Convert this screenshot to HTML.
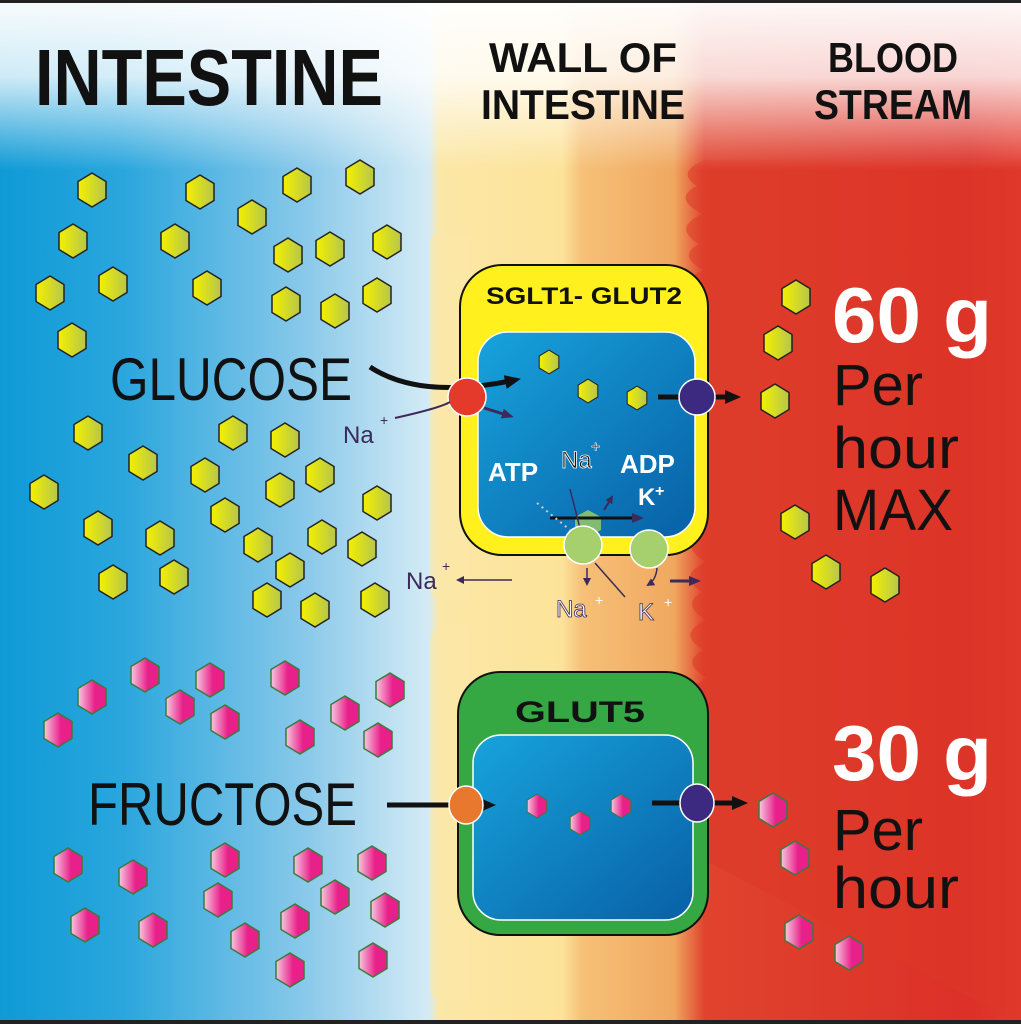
<!DOCTYPE html>
<html><head><meta charset="utf-8"><style>
html,body{margin:0;padding:0;background:#fff}
svg{display:block}
text{font-family:"Liberation Sans",sans-serif}
</style></head><body>
<svg width="1021" height="1024" viewBox="0 0 1021 1024" xmlns="http://www.w3.org/2000/svg">
<defs>
<linearGradient id="bg" x1="0" x2="1" y1="0" y2="0">
<stop offset="0" stop-color="#0f9ad6"/>
<stop offset="0.12" stop-color="#2aa6dd"/>
<stop offset="0.3" stop-color="#8ac9ea"/>
<stop offset="0.42" stop-color="#d4ebf5"/>
<stop offset="0.43" stop-color="#fbe7a6"/>
<stop offset="0.55" stop-color="#fde39a"/>
<stop offset="0.57" stop-color="#f6c077"/>
<stop offset="0.66" stop-color="#f0a860"/>
<stop offset="0.69" stop-color="#e0432e"/>
<stop offset="0.95" stop-color="#dc3028"/>
<stop offset="1" stop-color="#e43a2e"/>
</linearGradient>
<linearGradient id="top" x1="0" x2="0" y1="0" y2="1">
<stop offset="0" stop-color="#fff" stop-opacity="0.97"/>
<stop offset="0.45" stop-color="#fff" stop-opacity="0.8"/>
<stop offset="1" stop-color="#fff" stop-opacity="0"/>
</linearGradient>
<linearGradient id="yh" x1="0" x2="1">
<stop offset="0" stop-color="#f4f000"/><stop offset="1" stop-color="#b6c64a"/>
</linearGradient>
<linearGradient id="ph" x1="0" x2="1">
<stop offset="0" stop-color="#f7c8e0"/><stop offset="0.6" stop-color="#e8208a"/>
</linearGradient>
<linearGradient id="cell" x1="0" x2="1" y1="0" y2="1">
<stop offset="0" stop-color="#17a3dc"/><stop offset="1" stop-color="#0860a6"/>
</linearGradient>
<path id="hx" d="M0,-17 L14,-8.5 L14,8.5 L0,17 L-14,8.5 L-14,-8.5Z"/>
<g id="Y"><use href="#hx" fill="url(#yh)" stroke="#222" stroke-width="1.5"/></g>
<g id="P"><use href="#hx" fill="url(#ph)" stroke="#3a7a3a" stroke-width="1.5"/></g>
<marker id="ah" markerWidth="16" markerHeight="14" refX="10" refY="7" orient="auto" markerUnits="userSpaceOnUse"><path d="M0,0 L16,7 L0,14Z" fill="#111"/></marker>
<marker id="ap" markerWidth="12" markerHeight="10" refX="8" refY="5" orient="auto" markerUnits="userSpaceOnUse"><path d="M0,0 L12,5 L0,10Z" fill="#3b2a5a"/></marker>
<marker id="as" markerWidth="8" markerHeight="8" refX="6" refY="4" orient="auto" markerUnits="userSpaceOnUse"><path d="M0,0 L8,4 L0,8Z" fill="#3b2a5a"/></marker>
</defs>
<rect width="1021" height="1024" fill="url(#bg)"/>
<path d="M430,240 Q430,230 470,235 L470,600 Q430,605 430,590Z" fill="#fce8a8" opacity="0.6"/>
<path d="M430,640 Q430,620 470,625 L470,1000 Q430,1005 430,990Z" fill="#fce8a8" opacity="0.6"/>
<path d="M705,160 q-30,12 -8,26 q-25,12 5,28 q-30,14 -3,30 q-22,12 4,26 q-30,14 -2,32 q-25,12 3,28 q-30,14 -4,30 q-22,12 4,28 q-30,14 -2,30 q-25,12 3,28 q-30,14 -4,30 q-22,12 4,28 q-30,14 -2,30 q-25,12 3,28 q-30,14 -4,30 q-22,12 4,28 q-30,14 -2,30 q-25,12 3,28 q-30,14 -4,30 q-22,12 4,28 q-30,14 -2,30 q-25,12 3,28 q-30,14 -4,30 q-25,12 0,36 L1021,1024 L1021,160Z" fill="#dc3828" opacity="0.55"/>
<rect width="1021" height="170" fill="url(#top)"/>
<rect x="0" y="0" width="1021" height="3" fill="#222"/>
<rect x="0" y="1020" width="1021" height="4" fill="#222"/>

<text x="35" y="105" font-size="80" font-weight="bold" textLength="348" lengthAdjust="spacingAndGlyphs" fill="#111">INTESTINE</text>
<text x="583" y="72" font-size="42" font-weight="bold" text-anchor="middle" textLength="188" lengthAdjust="spacingAndGlyphs" fill="#111">WALL OF</text>
<text x="583" y="119" font-size="42" font-weight="bold" text-anchor="middle" textLength="204" lengthAdjust="spacingAndGlyphs" fill="#111">INTESTINE</text>
<text x="893" y="72" font-size="42" font-weight="bold" text-anchor="middle" textLength="130" lengthAdjust="spacingAndGlyphs" fill="#111">BLOOD</text>
<text x="893" y="119" font-size="42" font-weight="bold" text-anchor="middle" textLength="158" lengthAdjust="spacingAndGlyphs" fill="#111">STREAM</text>

<g>
<use href="#Y" x="92" y="190"/><use href="#Y" x="200" y="192"/><use href="#Y" x="297" y="185"/><use href="#Y" x="360" y="177"/>
<use href="#Y" x="252" y="217"/><use href="#Y" x="73" y="241"/><use href="#Y" x="175" y="241"/><use href="#Y" x="288" y="255"/>
<use href="#Y" x="330" y="249"/><use href="#Y" x="387" y="242"/><use href="#Y" x="113" y="284"/><use href="#Y" x="207" y="288"/>
<use href="#Y" x="50" y="293"/><use href="#Y" x="286" y="304"/><use href="#Y" x="335" y="311"/><use href="#Y" x="377" y="295"/>
<use href="#Y" x="72" y="340"/>
<use href="#Y" x="88" y="433"/><use href="#Y" x="233" y="433"/><use href="#Y" x="285" y="440"/><use href="#Y" x="143" y="463"/>
<use href="#Y" x="320" y="475"/><use href="#Y" x="205" y="475"/><use href="#Y" x="280" y="490"/><use href="#Y" x="44" y="492"/>
<use href="#Y" x="377" y="503"/><use href="#Y" x="225" y="515"/><use href="#Y" x="98" y="528"/><use href="#Y" x="160" y="538"/>
<use href="#Y" x="322" y="537"/><use href="#Y" x="258" y="545"/><use href="#Y" x="362" y="549"/><use href="#Y" x="290" y="570"/>
<use href="#Y" x="113" y="582"/><use href="#Y" x="174" y="577"/><use href="#Y" x="267" y="600"/><use href="#Y" x="315" y="610"/>
<use href="#Y" x="375" y="600"/>
<use href="#Y" x="796" y="297"/><use href="#Y" x="778" y="343"/><use href="#Y" x="775" y="401"/><use href="#Y" x="795" y="522"/>
<use href="#Y" x="826" y="572"/><use href="#Y" x="885" y="585"/>
</g>
<g>
<use href="#P" x="92" y="697"/><use href="#P" x="145" y="675"/><use href="#P" x="210" y="680"/><use href="#P" x="285" y="678"/>
<use href="#P" x="390" y="690"/><use href="#P" x="58" y="730"/><use href="#P" x="180" y="707"/><use href="#P" x="225" y="722"/>
<use href="#P" x="345" y="713"/><use href="#P" x="300" y="737"/><use href="#P" x="378" y="740"/>
<use href="#P" x="68" y="865"/><use href="#P" x="133" y="877"/><use href="#P" x="225" y="860"/><use href="#P" x="308" y="865"/>
<use href="#P" x="372" y="863"/><use href="#P" x="218" y="900"/><use href="#P" x="335" y="897"/><use href="#P" x="385" y="910"/>
<use href="#P" x="85" y="925"/><use href="#P" x="153" y="930"/><use href="#P" x="245" y="940"/><use href="#P" x="295" y="921"/>
<use href="#P" x="290" y="970"/><use href="#P" x="373" y="960"/>
<use href="#P" x="773" y="810"/><use href="#P" x="795" y="858"/><use href="#P" x="799" y="932"/><use href="#P" x="849" y="953"/>
</g>

<rect x="460" y="265" width="248" height="290" rx="42" fill="#fff01e" stroke="#111" stroke-width="2"/>
<text x="584" y="304" font-size="24" font-weight="bold" text-anchor="middle" textLength="196" lengthAdjust="spacingAndGlyphs" fill="#111">SGLT1- GLUT2</text>
<rect x="478" y="332" width="217" height="205" rx="30" fill="url(#cell)" stroke="#fff" stroke-width="1.5"/>
<g transform="translate(549,362) scale(0.7)"><use href="#Y"/></g>
<g transform="translate(588,391) scale(0.7)"><use href="#Y"/></g>
<g transform="translate(637,398) scale(0.7)"><use href="#Y"/></g>
<path d="M370,367 Q420,400 515,380" fill="none" stroke="#111" stroke-width="5" marker-end="url(#ah)"/>
<circle cx="467" cy="397" r="19" fill="#e33a2c" stroke="#fff" stroke-width="1.5"/>
<path d="M395,418 Q440,408 450,402" fill="none" stroke="#3b2a5a" stroke-width="2"/>
<path d="M484,408 L510,416" stroke="#3b2a5a" stroke-width="3" marker-end="url(#ap)"/>
<text x="343" y="443" font-size="24" fill="#3b2a5a">Na</text><text x="380" y="425" font-size="14" fill="#3b2a5a">+</text>
<line x1="658" y1="397" x2="735" y2="397" stroke="#111" stroke-width="5" marker-end="url(#ah)"/>
<circle cx="697" cy="397" r="18" fill="#3b2a80" stroke="#fff" stroke-width="1.5"/>
<text x="488" y="481" font-size="26" font-weight="bold" fill="#fff">ATP</text>
<text x="561" y="468" font-size="24" fill="#111" stroke="#fff" stroke-width="0.8">Na</text><text x="591" y="452" font-size="16" fill="#111" stroke="#fff" stroke-width="0.6">+</text>
<text x="620" y="473" font-size="26" font-weight="bold" fill="#fff">ADP</text>
<text x="638" y="505" font-size="24" font-weight="bold" fill="#fff">K</text><text x="655" y="496" font-size="16" font-weight="bold" fill="#fff">+</text>
<path d="M588,510 L601,517 L601,530 L588,537 L575,530 L575,517Z" fill="#8fc46a" opacity="0.9"/>
<line x1="550" y1="518" x2="640" y2="518" stroke="#111" stroke-width="3" marker-end="url(#ap)"/>
<path d="M537,503 L570,530" stroke="#ccc" stroke-width="2" stroke-dasharray="2,4"/>
<line x1="570" y1="489" x2="583" y2="540" stroke="#3b2a5a" stroke-width="1.5"/>
<line x1="604" y1="510" x2="612" y2="497" stroke="#3b2a5a" stroke-width="2" marker-end="url(#as)"/>
<circle cx="583" cy="545" r="19" fill="#a6cf6e" stroke="#fff" stroke-width="1.5"/>
<circle cx="649" cy="549" r="19" fill="#a6cf6e" stroke="#fff" stroke-width="1.5"/>
<line x1="512" y1="580" x2="458" y2="580" stroke="#3b2a5a" stroke-width="1.5" marker-end="url(#as)"/>
<text x="406" y="589" font-size="24" fill="#3b2a5a">Na</text><text x="442" y="571" font-size="14" fill="#3b2a5a">+</text>
<line x1="587" y1="568" x2="587" y2="584" stroke="#3b2a5a" stroke-width="1.5" marker-end="url(#as)"/>
<line x1="595" y1="563" x2="625" y2="597" stroke="#3b2a5a" stroke-width="1.5"/>
<path d="M657,568 Q656,580 648,585" fill="none" stroke="#3b2a5a" stroke-width="1.5" marker-end="url(#as)"/>
<line x1="670" y1="581" x2="697" y2="581" stroke="#3b2a5a" stroke-width="3" marker-end="url(#ap)"/>
<text x="556" y="617" font-size="24" fill="#fff" stroke="#3b2a5a" stroke-width="0.8">Na</text><text x="595" y="605" font-size="14" fill="#fff">+</text>
<text x="638" y="620" font-size="24" fill="#fff" stroke="#3b2a5a" stroke-width="0.8">K</text><text x="664" y="607" font-size="14" fill="#fff">+</text>

<rect x="458" y="672" width="250" height="263" rx="42" fill="#35a843" stroke="#111" stroke-width="2"/>
<text x="580" y="722" font-size="30" font-weight="bold" text-anchor="middle" textLength="130" lengthAdjust="spacingAndGlyphs" fill="#111">GLUT5</text>
<rect x="473" y="735" width="220" height="185" rx="28" fill="url(#cell)" stroke="#fff" stroke-width="1.5"/>
<g transform="translate(537,806) scale(0.7)"><use href="#P"/></g>
<g transform="translate(580,823) scale(0.7)"><use href="#P"/></g>
<g transform="translate(621,806) scale(0.7)"><use href="#P"/></g>
<line x1="387" y1="805" x2="490" y2="805" stroke="#111" stroke-width="5" marker-end="url(#ah)"/>
<ellipse cx="466" cy="805" rx="17" ry="19" fill="#e8782e" stroke="#fff" stroke-width="1.5"/>
<line x1="652" y1="803" x2="742" y2="803" stroke="#111" stroke-width="5" marker-end="url(#ah)"/>
<ellipse cx="697" cy="803" rx="17" ry="19" fill="#3b2a80" stroke="#fff" stroke-width="1.5"/>

<text x="110" y="400" font-size="60" textLength="242" lengthAdjust="spacingAndGlyphs" fill="#111">GLUCOSE</text>
<text x="88" y="825" font-size="60" textLength="269" lengthAdjust="spacingAndGlyphs" fill="#111">FRUCTOSE</text>
<text x="832" y="342" font-size="78" font-weight="bold" textLength="160" lengthAdjust="spacingAndGlyphs" fill="#fff">60 g</text>
<text x="833" y="405" font-size="58" textLength="90" lengthAdjust="spacingAndGlyphs" fill="#111">Per</text>
<text x="833" y="468" font-size="58" textLength="126" lengthAdjust="spacingAndGlyphs" fill="#111">hour</text>
<text x="833" y="530" font-size="58" textLength="120" lengthAdjust="spacingAndGlyphs" fill="#111">MAX</text>
<text x="832" y="780" font-size="78" font-weight="bold" textLength="160" lengthAdjust="spacingAndGlyphs" fill="#fff">30 g</text>
<text x="833" y="850" font-size="58" textLength="90" lengthAdjust="spacingAndGlyphs" fill="#111">Per</text>
<text x="833" y="908" font-size="58" textLength="126" lengthAdjust="spacingAndGlyphs" fill="#111">hour</text>
</svg>
</body></html>
